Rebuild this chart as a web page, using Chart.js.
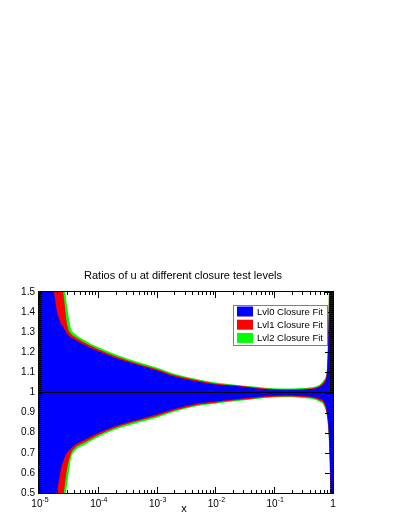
<!DOCTYPE html>
<html>
<head>
<meta charset="utf-8">
<script src="https://cdn.jsdelivr.net/npm/chart.js@4"></script>
<style>
html, body { margin: 0; padding: 0; background: #fff; }
</style>
</head>
<body>
<canvas id="ratioCanvas" width="401" height="519"></canvas>
<script>
///// data
let xs = [1e-5, 1.8e-5, 2e-5, 2.35e-5, 2.6e-5, 3e-5, 3.5e-5, 4e-5, 6e-5, 1e-4, 2e-4, 5e-4, 1e-3, 2e-3, 5e-3, 1e-2, 2e-2, 5e-2, 0.1, 0.2, 0.3, 0.5, 0.6, 0.7, 0.8, 0.85, 0.9, 0.95, 1];

let lvl0Upper = [2.0, 1.50, 1.41, 1.345, 1.326, 1.293, 1.274, 1.264, 1.236, 1.206, 1.172, 1.135, 1.11, 1.08, 1.055, 1.04, 1.033, 1.02, 1.013, 1.012, 1.014, 1.02, 1.028, 1.045, 1.11, 1.4, 2.0, 2.5, 3.0];
let lvl0Lower = [0.0, 0.47, 0.505, 0.615, 0.66, 0.70, 0.722, 0.738, 0.765, 0.797, 0.833, 0.866, 0.89, 0.918, 0.945, 0.955, 0.965, 0.977, 0.984, 0.985, 0.982, 0.975, 0.968, 0.955, 0.89, 0.8, 0.6, 0.2, -0.5];

let lvl1Upper = [2.5, 1.75, 1.68, 1.56, 1.49, 1.34, 1.292, 1.278, 1.248, 1.216, 1.18, 1.142, 1.117, 1.087, 1.061, 1.045, 1.037, 1.025, 1.017, 1.016, 1.018, 1.025, 1.035, 1.055, 1.13, 1.45, 2.1, 2.6, 3.1];
let lvl1Lower = [-0.5, 0.2, 0.3, 0.42, 0.49, 0.62, 0.697, 0.722, 0.752, 0.787, 0.825, 0.859, 0.882, 0.91, 0.938, 0.949, 0.96, 0.972, 0.979, 0.98, 0.977, 0.969, 0.96, 0.943, 0.875, 0.78, 0.55, 0.1, -0.6];

let lvl2Upper = [2.6, 1.85, 1.78, 1.66, 1.58, 1.43, 1.318, 1.295, 1.26, 1.226, 1.19, 1.15, 1.124, 1.093, 1.066, 1.05, 1.04, 1.029, 1.021, 1.02, 1.022, 1.03, 1.04, 1.062, 1.14, 1.5, 2.2, 2.7, 3.2];
let lvl2Lower = [-0.6, 0.1, 0.22, 0.35, 0.43, 0.54, 0.672, 0.707, 0.74, 0.777, 0.816, 0.851, 0.875, 0.904, 0.933, 0.944, 0.955, 0.968, 0.975, 0.976, 0.973, 0.964, 0.953, 0.935, 0.865, 0.76, 0.5, 0.0, -0.7];

let legendLabels = ["Lvl0 Closure Fit", "Lvl1 Closure Fit", "Lvl2 Closure Fit"];
let yTicks = [0.5, 0.6, 0.7, 0.8, 0.9, 1.0, 1.1, 1.2, 1.3, 1.4, 1.5];
let yTickLabels = ["0.5", "0.6", "0.7", "0.8", "0.9", "1", "1.1", "1.2", "1.3", "1.4", "1.5"];
let xTicks = [1e-5, 1e-4, 1e-3, 1e-2, 1e-1, 1];
let xTickExp = ["-5", "-4", "-3", "-2", "-1", ""];

let titleText = "Ratios of u at different closure test levels";
let xTitle = "x";

let colors = ["#0000ff", "#ff0000", "#00ff00"];
let FONT = "'Liberation Sans', Arial, sans-serif";

function pts(ys) {
    return xs.map((x, i) => ({ x: x, y: ys[i] }));
}

function band(ys, color, fillIt) {
    return {
        data: pts(ys),
        borderWidth: 0,
        borderColor: color,
        backgroundColor: color,
        pointRadius: 0,
        cubicInterpolationMode: "monotone",
        fill: fillIt ? "+1" : false
    };
}

///// frame, ticks, texts and legend
let decor = {
    id: "decor",
    afterDraw(chart) {
        let c = chart.ctx;
        let a = chart.chartArea;
        let sx = chart.scales.x;
        let sy = chart.scales.y;
        c.save();

        // frame
        c.strokeStyle = "#000";
        c.lineWidth = 1;
        c.strokeRect(a.left - 0.5, a.top - 0.5, a.right - a.left + 1, a.bottom - a.top + 1);

        // y ticks every 0.01
        c.beginPath();
        for (let i = 50; i <= 150; i++) {
            let y = Math.round(sy.getPixelForValue(i / 100)) + 0.5;
            let major = i % 10 == 0;
            c.moveTo(a.left, y); c.lineTo(a.left + 3, y);
            c.moveTo(a.right, y); c.lineTo(a.right - (major ? 8 : 3), y);
        }
        // x ticks: decades and 2..9
        for (let d = -5; d <= 0; d++) {
            for (let m = 1; m <= 9; m++) {
                let v = m * Math.pow(10, d);
                if (v > 1.0001) break;
                let x = Math.round(sx.getPixelForValue(v)) + 0.5;
                let len = m == 1 ? 6 : 3;
                c.moveTo(x, a.bottom); c.lineTo(x, a.bottom - len);
                c.moveTo(x, a.top); c.lineTo(x, a.top + len);
            }
        }
        c.stroke();

        // title
        c.fillStyle = "#000";
        c.font = "11px " + FONT;
        c.textAlign = "center";
        c.textBaseline = "alphabetic";
        c.fillText(titleText, 183, 279);

        // y labels
        c.font = "10px " + FONT;
        c.textAlign = "right";
        c.textBaseline = "middle";
        yTicks.forEach((v, i) => {
            c.fillText(yTickLabels[i], a.left - 4, sy.getPixelForValue(v));
        });

        // x labels, 10 with superscript
        c.textBaseline = "alphabetic";
        xTicks.forEach((v, i) => {
            let x = sx.getPixelForValue(v);
            if (xTickExp[i] == "") {
                c.font = "10px " + FONT;
                c.textAlign = "center";
                c.fillText("1", x, 507);
                return;
            }
            c.font = "10px " + FONT;
            let wBase = c.measureText("10").width;
            c.font = "7px " + FONT;
            let wExp = c.measureText(xTickExp[i]).width;
            let x0 = x + 1 - (wBase + wExp) / 2;
            c.textAlign = "left";
            c.font = "10px " + FONT;
            c.fillText("10", x0, 507);
            c.font = "7px " + FONT;
            c.fillText(xTickExp[i], x0 + wBase, 502);
        });

        // x title
        c.font = "11px " + FONT;
        c.textAlign = "center";
        c.fillText(xTitle, 184, 512);

        // legend
        let lx = 233, ly = 305, lw = 94, lh = 40;
        c.fillStyle = "#fff";
        c.fillRect(lx, ly, lw, lh);
        c.strokeStyle = "#808080";
        c.strokeRect(lx + 0.5, ly + 0.5, lw, lh);
        c.font = "9.5px " + FONT;
        c.textAlign = "left";
        c.textBaseline = "middle";
        legendLabels.forEach((t, i) => {
            let cy = 311.5 + i * 13.2;
            c.fillStyle = colors[i];
            c.fillRect(237, cy - 5, 16, 10);
            c.fillStyle = "#000";
            c.fillText(t, 257, cy + 0.5);
        });

        c.restore();
    }
};

///// the chart
let canvas = document.getElementById("ratioCanvas");
let ratioChart = new Chart(canvas, {
    type: "line",
    data: {
        datasets: [
            {
                data: [{ x: xs[0], y: 1 }, { x: xs[xs.length - 1], y: 1 }],
                borderColor: "#000",
                borderWidth: 1,
                pointRadius: 0,
                fill: false
            },
            band(lvl0Upper, colors[0], true),
            band(lvl0Lower, colors[0], false),
            band(lvl1Upper, colors[1], true),
            band(lvl1Lower, colors[1], false),
            band(lvl2Upper, colors[2], true),
            band(lvl2Lower, colors[2], false)
        ]
    },
    options: {
        responsive: false,
        animation: false,
        layout: { padding: { left: 39, top: 292, right: 68, bottom: 26 } },
        scales: {
            x: { type: "logarithmic", min: 1e-5, max: 1, display: false },
            y: { type: "linear", min: 0.5, max: 1.5, display: false }
        },
        plugins: {
            legend: { display: false },
            tooltip: { enabled: false }
        }
    },
    plugins: [decor]
});
</script>
</body>
</html>
